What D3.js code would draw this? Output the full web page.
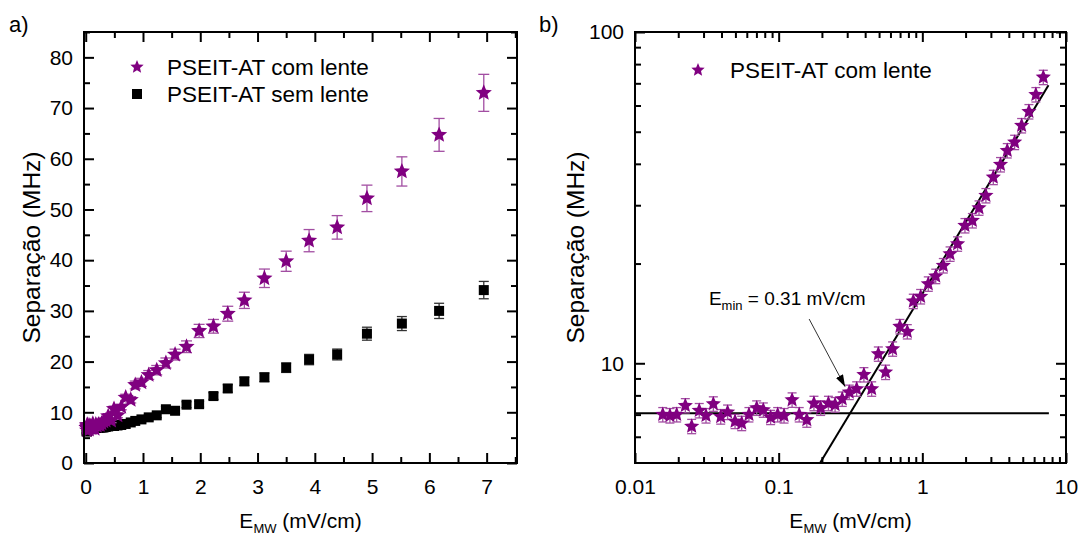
<!DOCTYPE html>
<html>
<head>
<meta charset="utf-8">
<script src="https://cdn.jsdelivr.net/npm/d3@7"></script>
<style>
  body { margin: 0; background: #fff; }
  svg text { font-family: "Liberation Sans", Arial, sans-serif; fill: #000; }
</style>
</head>
<body>
<svg id="chart" width="1083" height="537"></svg>
<script>
// Microwave field amplitude (mV/cm)
const fieldE = [0.0156, 0.0175, 0.0195, 0.0224, 0.0248, 0.0280, 0.0312, 0.0351, 0.0395, 0.0441,
  0.0497, 0.0553, 0.0621, 0.0703, 0.0782, 0.0879, 0.0984, 0.109, 0.124, 0.139,
  0.157, 0.176, 0.196, 0.222, 0.247, 0.277, 0.310, 0.349, 0.392, 0.444,
  0.494, 0.555, 0.621, 0.698, 0.786, 0.865, 0.973, 1.10, 1.24, 1.40,
  1.56, 1.76, 1.98, 2.23, 2.48, 2.77, 3.12, 3.50, 3.90, 4.39,
  4.91, 5.52, 6.17, 6.95];

// Splitting (MHz) with lens
const sepComLente = [7.00, 6.95, 7.00, 7.45, 6.45, 7.20, 6.95, 7.54, 6.90, 7.12,
  6.68, 6.59, 7.00, 7.33, 7.23, 6.87, 7.00, 6.95, 7.75, 7.00,
  6.75, 7.57, 7.33, 7.57, 7.50, 7.80, 8.18, 8.37, 9.24, 8.37,
  10.67, 9.40, 11.05, 12.91, 12.46, 15.39, 15.90, 17.36, 18.31, 19.72,
  21.38, 22.93, 26.04, 26.96, 29.44, 32.08, 36.43, 39.79, 43.85, 46.47,
  52.19, 57.50, 64.71, 73.00];
const errComLente = [0.35, 0.35, 0.35, 0.37, 0.32, 0.36, 0.35, 0.38, 0.35, 0.36,
  0.33, 0.33, 0.35, 0.37, 0.36, 0.34, 0.35, 0.35, 0.39, 0.35,
  0.34, 0.38, 0.37, 0.38, 0.38, 0.39, 0.41, 0.42, 0.46, 0.42,
  0.53, 0.47, 0.55, 0.65, 0.62, 0.77, 0.80, 0.87, 0.92, 0.99,
  1.07, 1.15, 1.30, 1.35, 1.47, 1.60, 1.82, 1.99, 2.19, 2.32,
  2.61, 2.88, 3.24, 3.65];

// Splitting (MHz) without lens
const sepSemLente = [6.2, 6.4, 6.3, 6.5, 6.4, 6.5, 6.6, 6.5, 6.6, 6.7,
  6.6, 6.7, 6.7, 6.8, 6.7, 6.8, 6.8, 6.9, 6.8, 6.9,
  6.9, 6.9, 7.0, 6.9, 7.0, 7.0, 7.0, 7.1, 7.2, 7.3,
  7.3, 7.4, 7.5, 7.7, 8.0, 8.3, 8.6, 9.0, 9.4, 10.6,
  10.3, 11.5, 11.6, 13.2, 14.7, 16.1, 16.9, 18.8, 20.4, 21.4,
  25.5, 27.5, 30.0, 34.1];
const errSemLente = [0.31, 0.32, 0.32, 0.33, 0.32, 0.33, 0.33, 0.33, 0.33, 0.34,
  0.33, 0.34, 0.34, 0.34, 0.34, 0.34, 0.34, 0.35, 0.34, 0.35,
  0.35, 0.35, 0.35, 0.35, 0.35, 0.35, 0.35, 0.36, 0.36, 0.37,
  0.37, 0.37, 0.38, 0.39, 0.40, 0.42, 0.43, 0.45, 0.47, 0.53,
  0.52, 0.58, 0.58, 0.66, 0.74, 0.81, 0.85, 0.94, 1.02, 1.07,
  1.28, 1.38, 1.50, 1.71];

// Tick values
const xTicksA = [0, 1, 2, 3, 4, 5, 6, 7];
const xMinorA = [0.5, 1.5, 2.5, 3.5, 4.5, 5.5, 6.5, 7.5];
const yTicksA = [0, 10, 20, 30, 40, 50, 60, 70, 80];
const yMinorA = [5, 15, 25, 35, 45, 55, 65, 75, 85];
const xTicksB = [0.01, 0.1, 1, 10];
const xMinorB = [0.02,0.03,0.04,0.05,0.06,0.07,0.08,0.09,0.2,0.3,0.4,0.5,0.6,0.7,0.8,0.9,2,3,4,5,6,7,8,9];
const yTicksB = [10, 100];
const yMinorB = [6, 7, 8, 9, 20, 30, 40, 50, 60, 70, 80, 90];

// Fits shown in panel b: plateau and power law S = A * E^k
const plateauLevel = 7.07;
const fitAmp = 16.2;
const fitExp = 0.717;
const eMinLabel = "0.31";

const PURPLE = "#800080";
const svg = d3.select("#chart");

const data = fieldE.map((e, i) => ({
  e, com: sepComLente[i], comErr: errComLente[i], sem: sepSemLente[i], semErr: errSemLente[i]
}));

// five-point star path centred on the origin, point up
function starPath(r, ratio) {
  const pts = [];
  for (let i = 0; i < 10; i++) {
    const rr = i % 2 === 0 ? r : r * ratio;
    const a = -Math.PI / 2 + i * Math.PI / 5;
    pts.push([rr * Math.cos(a), rr * Math.sin(a)]);
  }
  return "M" + pts.map(p => p[0].toFixed(2) + "," + p[1].toFixed(2)).join("L") + "Z";
}

const TICK_MAJ = 10, TICK_MIN = 6;

function drawFrame(g, x, y, opt) {
  const [x0, x1] = x.range();
  const [y0, y1] = y.range();
  const W = x1 - x0, H = y0 - y1;
  const fs = 21;
  // bottom
  g.append("g").attr("transform", `translate(0,${y0})`)
    .call(d3.axisBottom(x).tickValues(opt.xTicks).tickSize(-TICK_MAJ).tickPadding(16).tickFormat(opt.xFmt));
  g.append("g").attr("transform", `translate(0,${y0})`)
    .call(d3.axisBottom(x).tickValues(opt.xMinor).tickSize(-TICK_MIN).tickFormat(""));
  // top
  g.append("g").attr("transform", `translate(0,${y1})`)
    .call(d3.axisTop(x).tickValues(opt.xTicks).tickSize(-TICK_MAJ).tickFormat(""));
  g.append("g").attr("transform", `translate(0,${y1})`)
    .call(d3.axisTop(x).tickValues(opt.xMinor).tickSize(-TICK_MIN).tickFormat(""));
  // left
  g.append("g").attr("transform", `translate(${x0},0)`)
    .call(d3.axisLeft(y).tickValues(opt.yTicks).tickSize(-TICK_MAJ).tickPadding(11).tickFormat(opt.yFmt));
  g.append("g").attr("transform", `translate(${x0},0)`)
    .call(d3.axisLeft(y).tickValues(opt.yMinor).tickSize(-TICK_MIN).tickFormat(""));
  // right
  g.append("g").attr("transform", `translate(${x1},0)`)
    .call(d3.axisRight(y).tickValues(opt.yTicks).tickSize(-TICK_MAJ).tickFormat(""));
  g.append("g").attr("transform", `translate(${x1},0)`)
    .call(d3.axisRight(y).tickValues(opt.yMinor).tickSize(-TICK_MIN).tickFormat(""));

  g.selectAll(".domain").remove();
  g.selectAll(".tick line").attr("stroke", "#000").attr("stroke-width", 2);
  g.selectAll(".tick text").style("font-size", fs + "px").style("font-family", '"Liberation Sans", Arial, sans-serif');

  g.append("rect").attr("x", x0).attr("y", y1).attr("width", W).attr("height", H)
    .attr("fill", "none").attr("stroke", "#000").attr("stroke-width", 2);

  // axis titles
  const cx = (x0 + x1) / 2;
  const xt = g.append("text").attr("x", cx).attr("y", 528).attr("text-anchor", "middle")
    .style("font-size", "21px");
  xt.append("tspan").text("E");
  xt.append("tspan").text("MW").style("font-size", "13px").attr("dy", 5);
  xt.append("tspan").text(" (mV/cm)").attr("dy", -5);

  g.append("text")
    .attr("transform", `translate(${opt.yTitleX},${(y0 + y1) / 2}) rotate(-90)`)
    .attr("text-anchor", "middle").style("font-size", "24.5px")
    .text("Separação (MHz)");
}

function errorBars(g, pts, x, y, key, errKey, color, cap) {
  const eb = g.append("g").attr("stroke", color).attr("stroke-width", 1.3).attr("fill", "none");
  pts.forEach(d => {
    const cxp = x(d.e), lo = y(d[key] - d[errKey]), hi = y(d[key] + d[errKey]);
    eb.append("line").attr("x1", cxp).attr("x2", cxp).attr("y1", lo).attr("y2", hi);
    eb.append("line").attr("x1", cxp - cap / 2).attr("x2", cxp + cap / 2).attr("y1", lo).attr("y2", lo);
    eb.append("line").attr("x1", cxp - cap / 2).attr("x2", cxp + cap / 2).attr("y1", hi).attr("y2", hi);
  });
}

// ---------- Panel a: linear axes ----------
{
  const x = d3.scaleLinear().domain([-0.03, 7.53]).range([84, 517]);
  const y = d3.scaleLinear().domain([0, 85]).range([463, 32]);
  const g = svg.append("g");

  svg.append("text").attr("x", 9).attr("y", 32).style("font-size", "22px").text("a)");

  // without lens
  errorBars(g, data, x, y, "sem", "semErr", "#333", 10);
  g.append("g").selectAll("rect").data(data).join("rect")
    .attr("x", d => x(d.e) - 5).attr("y", d => y(d.sem) - 5)
    .attr("width", 10).attr("height", 10).attr("fill", "#000");

  // with lens
  errorBars(g, data, x, y, "com", "comErr", "#a24ea2", 11);
  const star = starPath(8.5, 0.45);
  g.append("g").selectAll("path").data(data).join("path")
    .attr("d", star).attr("fill", PURPLE)
    .attr("transform", d => `translate(${x(d.e)},${y(d.com)})`);

  drawFrame(g, x, y, {
    xTicks: xTicksA, xMinor: xMinorA, yTicks: yTicksA, yMinor: yMinorA,
    xFmt: d3.format("d"), yFmt: d3.format("d"), yTitleX: 40
  });

  // legend
  const lg = svg.append("g");
  lg.append("path").attr("d", starPath(7, 0.45)).attr("fill", PURPLE).attr("transform", "translate(137,67)");
  lg.append("text").attr("x", 167).attr("y", 75).style("font-size", "22.5px").text("PSEIT-AT com lente");
  lg.append("rect").attr("x", 132).attr("y", 89).attr("width", 10).attr("height", 10).attr("fill", "#000");
  lg.append("text").attr("x", 167).attr("y", 102).style("font-size", "22.5px").text("PSEIT-AT sem lente");
}

// ---------- Panel b: log-log axes ----------
{
  const x = d3.scaleLog().domain([0.01, 10]).range([635, 1066]);
  const y = d3.scaleLog().domain([5, 100]).range([463, 32]);
  const g = svg.append("g");

  svg.append("text").attr("x", 539).attr("y", 32).style("font-size", "22px").text("b)");

  svg.append("clipPath").attr("id", "clipB").append("rect")
    .attr("x", 635).attr("y", 32).attr("width", 431).attr("height", 431);

  const fitG = g.append("g").attr("clip-path", "url(#clipB)");
  const line = d3.line().x(d => x(d[0])).y(d => y(d[1]));
  // plateau level
  fitG.append("path").attr("d", line([[0.01, plateauLevel], [7.6, plateauLevel]]))
    .attr("stroke", "#000").attr("stroke-width", 2).attr("fill", "none");
  // power-law fit (straight line on log-log axes)
  const eStart = Math.pow(5 / fitAmp, 1 / fitExp);
  fitG.append("path")
    .attr("d", line([eStart, 7.55].map(e => [e, fitAmp * Math.pow(e, fitExp)])))
    .attr("stroke", "#000").attr("stroke-width", 2).attr("fill", "none");

  errorBars(g, data, x, y, "com", "comErr", "#a24ea2", 9);
  const star = starPath(8, 0.45);
  g.append("g").selectAll("path").data(data).join("path")
    .attr("d", star).attr("fill", PURPLE)
    .attr("transform", d => `translate(${x(d.e)},${y(d.com)})`);

  drawFrame(g, x, y, {
    xTicks: xTicksB, xMinor: xMinorB, yTicks: yTicksB, yMinor: yMinorB,
    xFmt: d => String(d), yFmt: d => String(d), yTitleX: 584
  });

  // annotation with arrow
  const defs = svg.append("defs");
  defs.append("marker").attr("id", "arrowHead").attr("viewBox", "0 0 12 8")
    .attr("refX", 12).attr("refY", 4).attr("markerWidth", 12).attr("markerHeight", 8)
    .attr("markerUnits", "userSpaceOnUse").attr("orient", "auto")
    .append("path").attr("d", "M0,0L12,4L0,8Z").attr("fill", "#000");
  g.append("line")
    .attr("x1", x(0.163)).attr("y1", y(13.6)).attr("x2", x(0.29)).attr("y2", y(8.5))
    .attr("stroke", "#333").attr("stroke-width", 1).attr("marker-end", "url(#arrowHead)");
  const at = g.append("text").attr("x", x(0.0327)).attr("y", y(15.0)).style("font-size", "19px");
  at.append("tspan").text("E");
  at.append("tspan").text("min").style("font-size", "13px").attr("dy", 5);
  at.append("tspan").text(" = " + eMinLabel + " mV/cm").attr("dy", -5);

  // legend
  const lg = svg.append("g");
  lg.append("path").attr("d", starPath(7, 0.45)).attr("fill", PURPLE).attr("transform", "translate(698,70)");
  lg.append("text").attr("x", 730).attr("y", 78).style("font-size", "22.5px").text("PSEIT-AT com lente");
}
</script>
</body>
</html>
